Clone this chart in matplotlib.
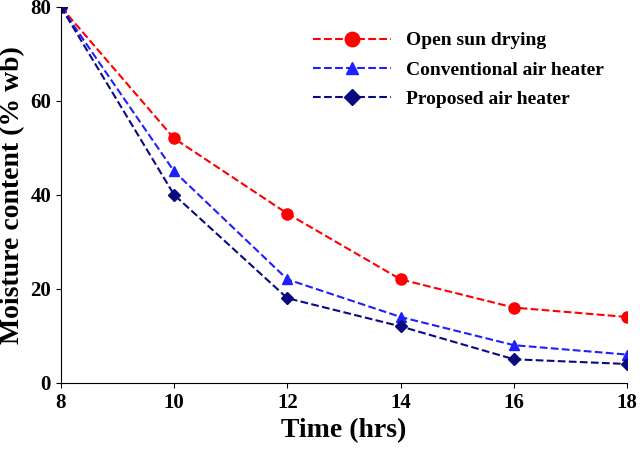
import matplotlib.pyplot as plt

# 데이터
time_hrs = [8, 10, 12, 14, 16, 18]
open_sun = [80, 52, 36, 22, 16, 14]
conventional = [80, 45, 22, 14, 8, 6]
proposed = [80, 40, 18, 12, 5, 4]

plt.rcParams['font.family'] = ['Liberation Serif', 'DejaVu Serif']
plt.rcParams['font.weight'] = 'bold'

fig = plt.figure(figsize=(6.4, 4.53), dpi=100)
ax = fig.add_axes([0.095, 0.155, 0.885, 0.83])

ax.plot(time_hrs, open_sun, '--o', color='red', markersize=8, label='Open sun drying')
ax.plot(time_hrs, conventional, '--^', color='#1f1fff', markersize=7, label='Conventional air heater')
ax.plot(time_hrs, proposed, '--D', color='#0a0a80', markersize=6, label='Proposed air heater')

ax.set_xlim(8, 18)
ax.set_ylim(0, 80)
ax.set_xticks(time_hrs)
ax.set_yticks([0, 20, 40, 60, 80])
ax.spines['top'].set_visible(False)
ax.spines['right'].set_visible(False)
ax.tick_params(labelsize=15, direction='out')
for lbl in ax.get_xticklabels() + ax.get_yticklabels():
    lbl.set_fontweight('bold')
ax.set_xlabel('Time (hrs)', fontsize=20, fontweight='bold', labelpad=4)
ax.set_ylabel('Moisture content (% wb)', fontsize=20, fontweight='bold', labelpad=4)

ax.legend(loc='upper right', bbox_to_anchor=(0.99, 0.98), frameon=False,
          prop={'weight': 'bold', 'size': 14}, markerscale=1.3,
          handlelength=4, labelspacing=0.6)

fig.savefig('out.png', dpi=100)
